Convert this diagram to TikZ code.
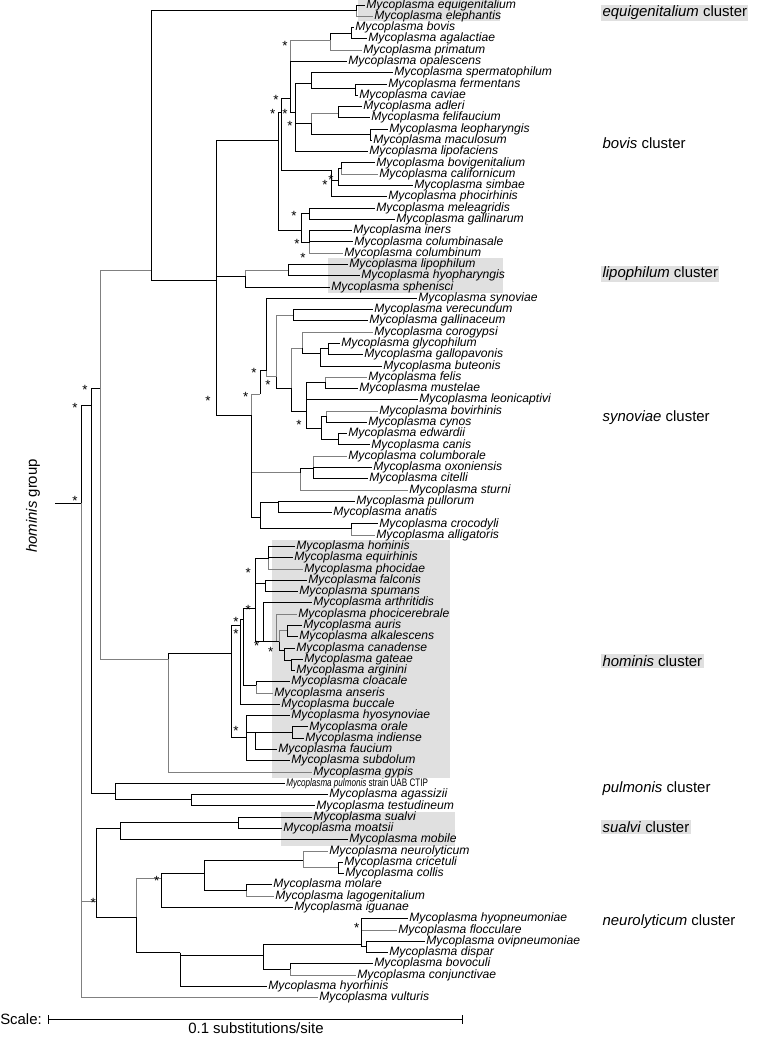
\documentclass[tikz,border=0pt]{standalone}
\usepackage{fontspec}
\setmainfont{Liberation Sans}
\definecolor{brgray}{RGB}{128,128,128}
\definecolor{hl}{RGB}{224,224,224}

\begin{document}
\begin{tikzpicture}[x=0.75pt,y=-0.75pt,
  br/.style={line width=0.65pt},
  gbr/.style={line width=0.65pt,draw=brgray},
  leaf/.style={anchor=west,inner sep=0.8pt,font=\fontsize{9.1}{10}\selectfont\itshape},
  star/.style={inner sep=0pt,yshift=-2.2pt,font=\fontsize{10}{10}\selectfont},
  clus/.style={anchor=west,inner sep=1pt,font=\fontsize{11.2}{12}\selectfont}]
\useasboundingbox (0,0) rectangle (756,1037);

% shaded clusters
\fill[hl] (358,0) rectangle (500,21);
\fill[hl] (328,258) rectangle (503,293);
\fill[hl] (271.7,540) rectangle (450,778);
\fill[hl] (281,812) rectangle (455,846);

% internal nodes
\coordinate (root0) at (55,503.3);
\coordinate (root) at (81.7,503.3);
\coordinate (N1) at (91.7,405);
\coordinate (N2) at (100,388.3);
\coordinate (upper) at (151,270);
\coordinate (eqn) at (356.7,10);
\coordinate (bsn) at (216.7,280);
\coordinate (bovn) at (278.3,140);
\coordinate (B) at (281.7,112);
\coordinate (D) at (290,98);
\coordinate (bap) at (330,40);
\coordinate (bov) at (351.7,33);
\coordinate (E) at (295.7,112);
\coordinate (S) at (311.7,83.3);
\coordinate (fc) at (355,88.3);
\coordinate (G) at (311.7,123.3);
\coordinate (af) at (338.3,113.3);
\coordinate (lm) at (370,134.3);
\coordinate (F) at (331.7,170);
\coordinate (bcs) at (338.3,180);
\coordinate (bc) at (341.7,168.5);
\coordinate (C) at (301.7,230);
\coordinate (mg) at (309.3,213.3);
\coordinate (icc) at (309.3,242);
\coordinate (lip) at (245.7,276.7);
\coordinate (lh) at (288.3,270);
\coordinate (Q) at (251.7,415);
\coordinate (R0) at (260,394);
\coordinate (R1) at (266.7,370);
\coordinate (R2) at (276,376.7);
\coordinate (vg) at (293.3,315);
\coordinate (V) at (291.7,388.3);
\coordinate (W) at (302.7,348.3);
\coordinate (W2) at (320,353.3);
\coordinate (gg) at (328.3,348);
\coordinate (X) at (306,411.7);
\coordinate (fm) at (325,382);
\coordinate (Y) at (321.7,428.3);
\coordinate (bcy) at (326.7,416.7);
\coordinate (ec) at (338.3,439);
\coordinate (T) at (300,472.7);
\coordinate (coc) at (313.3,468.3);
\coordinate (U) at (260,517.7);
\coordinate (pa) at (278.3,502);
\coordinate (ca) at (351.7,528.3);
\coordinate (HOM0) at (168.3,659.3);
\coordinate (H) at (231.7,653.3);
\coordinate (H2) at (240.7,625);
\coordinate (H1a) at (243.3,619.3);
\coordinate (H1) at (255,608.3);
\coordinate (hep) at (268.3,558);
\coordinate (fs) at (265.7,583.3);
\coordinate (AR) at (263.3,641.7);
\coordinate (PC) at (276.7,641.7);
\coordinate (P2) at (279.3,641.7);
\coordinate (aa) at (287.3,630);
\coordinate (P3) at (284,650);
\coordinate (ga) at (291.7,660);
\coordinate (cla) at (256,685);
\coordinate (H3) at (246,737.7);
\coordinate (OF) at (255,732);
\coordinate (oi) at (292,732);
\coordinate (PL) at (115,793.3);
\coordinate (ats) at (191.7,799.3);
\coordinate (NS) at (96.7,901.7);
\coordinate (SU) at (120,828.3);
\coordinate (sm) at (238.3,822);
\coordinate (NE) at (136.7,917.7);
\coordinate (NE1) at (161.7,878.3);
\coordinate (NE1a) at (204.3,873.3);
\coordinate (NC) at (303.3,860);
\coordinate (cc) at (338.3,867.7);
\coordinate (ml) at (246.7,890);
\coordinate (NE2) at (180,952.7);
\coordinate (NE3) at (263.3,955);
\coordinate (HY) at (361.7,944.3);
\coordinate (od) at (366.7,946);
\coordinate (bco) at (290,969);

% leaves
\foreach \n/\i/\x in {equigenitalium/1/365, elephantis/2/373, bovis/3/354, agalactiae/4/367,
  primatum/5/362, opalescens/6/347, spermatophilum/7/393, fermentans/8/387, caviae/9/358,
  adleri/10/362, felifaucium/11/370, leopharyngis/12/388, maculosum/13/372, lipofaciens/14/368,
  bovigenitalium/15/375, californicum/16/378, simbae/17/413, phocirhinis/18/387,
  meleagridis/19/375, gallinarum/20/395, iners/21/352, columbinasale/22/353, columbinum/23/343,
  lipophilum/24/348, hyopharyngis/25/360, sphenisci/26/330, synoviae/27/417, verecundum/28/373,
  gallinaceum/29/368, corogypsi/30/373, glycophilum/31/340, gallopavonis/32/363, buteonis/33/382,
  felis/34/367, mustelae/35/358, leonicaptivi/36/418, bovirhinis/37/378, cynos/38/367,
  edwardii/39/347, canis/40/370, columborale/41/347, oxoniensis/42/372, citelli/43/368,
  sturni/44/408, pullorum/45/355, anatis/46/332, crocodyli/47/378, alligatoris/48/375,
  hominis/49/295, equirhinis/50/293, phocidae/51/303, falconis/52/307, spumans/53/298,
  arthritidis/54/312, phocicerebrale/55/297, auris/56/302, alkalescens/57/298, canadense/58/295,
  gateae/59/303, arginini/60/295, cloacale/61/290, anseris/62/273, buccale/63/280,
  hyosynoviae/64/290, orale/65/308, indiense/66/304, faucium/67/277, subdolum/68/290,
  gypis/69/312, agassizii/71/328, testudineum/72/315, sualvi/73/312, moatsii/74/282,
  mobile/75/348, neurolyticum/76/328, cricetuli/77/343, collis/78/344, molare/79/272,
  lagogenitalium/80/274, iguanae/81/293, hyopneumoniae/82/408, flocculare/83/397,
  ovipneumoniae/84/425, dispar/85/388, bovoculi/86/373, conjunctivae/87/356, hyorhinis/88/267,
  vulturis/89/318}
  \node[leaf] (\n) at (\x,{5+(\i-1)*11.28}) {Mycoplasma \n};
\node[leaf,font=\fontsize{8.2}{9}\selectfont\itshape\addfontfeature{FakeStretch=0.74}] (pulmonis) at (285,783.5) {Mycoplasma pulmonis {\upshape strain UAB CTIP}};

% branches
\draw[br] (root0) -- (root);
\foreach \p/\c in {root/NS, root/vulturis.west, N2/upper, N2/HOM0, eqn/elephantis.west,
  D/bap, bap/primatum.west, G/af, bc/californicum.west, icc/columbinum.west, lip/lh, Q/R0,
  Q/T, R1/R2, R2/vg, V/W, W/corogypsi.west, fm/felis.west, bcy/bovirhinis.west,
  T/sturni.west, coc/columborale.west, ca/alligatoris.west, HOM0/gypis.west,
  hep/phocidae.west, PC/phocicerebrale.west, P2/aa, cla/anseris.west, NE/NE1,
  NC/neurolyticum.west, NC/cc, ml/lagogenitalium.west, HY/flocculare.west,
  bco/conjunctivae.west}
  \draw[gbr] (\p) |- (\c);
\foreach \p/\c in {root/N1, N1/N2, N1/PL, upper/eqn, upper/bsn, eqn/equigenitalium.west,
  bsn/bovn, bsn/lip, bsn/Q, bovn/B, bovn/C, B/D, B/F, D/opalescens.west, D/E, bap/bov,
  bov/bovis.west, bov/agalactiae.west, E/S, E/G, E/lipofaciens.west, S/spermatophilum.west,
  S/fc, fc/fermentans.west, fc/caviae.west, G/lm, af/adleri.west, af/felifaucium.west,
  lm/leopharyngis.west, lm/maculosum.west, F/bcs, F/phocirhinis.west, bcs/bc,
  bcs/simbae.west, bc/bovigenitalium.west, C/mg, C/icc, mg/meleagridis.west,
  mg/gallinarum.west, icc/iners.west, icc/columbinasale.west, lip/sphenisci.west,
  lh/lipophilum.west, lh/hyopharyngis.west, Q/U, R0/R1, R1/synoviae.west, R2/V,
  vg/verecundum.west, vg/gallinaceum.west, V/X, W/W2, W2/gg, W2/buteonis.west,
  gg/glycophilum.west, gg/gallopavonis.west, X/fm, X/leonicaptivi.west, X/Y,
  fm/mustelae.west, Y/bcy, Y/ec, bcy/cynos.west, ec/edwardii.west, ec/canis.west, T/coc,
  coc/oxoniensis.west, coc/citelli.west, U/pa, U/ca, pa/pullorum.west, pa/anatis.west,
  ca/crocodyli.west, HOM0/H, H/H2, H/H3, H2/H1a, H2/buccale.west, H1a/H1, H1a/cla,
  H1/hep, H1/fs, H1/AR, hep/hominis.west, hep/equirhinis.west, fs/falconis.west,
  fs/spumans.west, AR/arthritidis.west, AR/PC, PC/P2, aa/auris.west, aa/alkalescens.west,
  P2/P3, P3/canadense.west, P3/ga, ga/gateae.west, ga/arginini.west, cla/cloacale.west,
  H3/hyosynoviae.west, H3/OF, H3/subdolum.west, OF/oi, OF/faucium.west, oi/orale.west,
  oi/indiense.west, PL/pulmonis.west, PL/ats, ats/agassizii.west, ats/testudineum.west,
  NS/SU, NS/NE, SU/sm, SU/mobile.west, sm/sualvi.west, sm/moatsii.west, NE/NE2,
  NE1/NE1a, NE1/iguanae.west, NE1a/NC, NE1a/ml, cc/cricetuli.west, cc/collis.west,
  ml/molare.west, NE2/NE3, NE2/hyorhinis.west, NE3/HY, NE3/bco, HY/hyopneumoniae.west,
  HY/od, od/ovipneumoniae.west, od/dispar.west, bco/bovoculi.west}
  \draw[br] (\p) |- (\c);

% support marks
\foreach \sx/\sy [count=\k] in {285/43, 276/97, 272.7/111, 285/111, 290/123, 325/182,
  331/177, 294/213, 297/241, 303/255, 254/370, 268/382, 85/387, 75/405, 208/398,
  245.7/394, 299/421.7, 75/498, 248.3/570, 248.3/606.7, 236/619.3, 236/630.7,
  256.7/643.3, 270.7/649, 236/728.3, 156.7/878.3, 93.3/900, 356.7/925}
  \node[star] (st\k) at (\sx,\sy) {*};

% cluster names
\node[clus,fill=hl] (cl-equi) at (601,13) {\textit{equigenitalium} cluster};
\node[clus] (cl-bovis) at (601,143) {\textit{bovis} cluster};
\node[clus,fill=hl] (cl-lipo) at (601,274) {\textit{lipophilum} cluster};
\node[clus] (cl-syno) at (601,418) {\textit{synoviae} cluster};
\node[clus,fill=hl] (cl-homi) at (601,661) {\textit{hominis} cluster};
\node[clus] (cl-pulm) at (601,789) {\textit{pulmonis} cluster};
\node[clus,fill=hl] (cl-sual) at (601,827) {\textit{sualvi} cluster};
\node[clus] (cl-neur) at (601,922) {\textit{neurolyticum} cluster};

\node[rotate=90,inner sep=0pt,font=\fontsize{11.2}{12}\selectfont] (group) at (33,506) {\textit{hominis} group};

% scale bar
\coordinate (sbL) at (48.3,1019.3);
\coordinate (sbR) at (463.3,1019.3);
\draw[br,|-|] (sbL) -- (sbR);
\node[anchor=west,inner sep=0pt,font=\fontsize{11.2}{12}\selectfont] (scale) at (0,1019.3) {Scale:};
\node[inner sep=0pt,font=\fontsize{11.2}{12}\selectfont] (unit) at (256,1028.5) {0.1 substitutions/site};
\end{tikzpicture}
\end{document}
